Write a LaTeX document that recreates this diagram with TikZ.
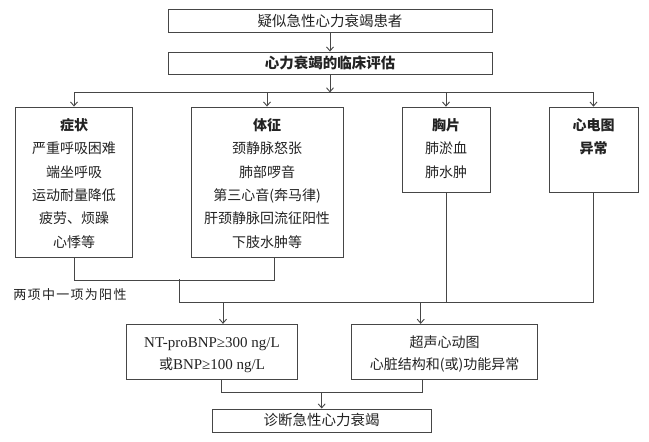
\documentclass[tikz,border=0pt]{standalone}
\usepackage{fontspec}
\setmainfont{Liberation Serif}
\newfontfamily\cjk{Noto Sans CJK SC}
\usetikzlibrary{arrows.meta}
\definecolor{linec}{RGB}{70,70,70}
\definecolor{textc}{RGB}{35,35,35}
\begin{document}
\begin{tikzpicture}[x=1pt,y=-1pt,
  box/.style={draw=linec,line width=0.9pt,inner sep=0pt},
  ln/.style={draw=linec,line width=0.9pt},
  arr/.style={ln,-{Straight Barb[length=4pt,width=7pt]}},
  t/.style={inner sep=0pt,text height=12.3pt,text depth=1.7pt,text=textc,font=\cjk\fontsize{14}{14}\selectfont},
  tb/.style={t,font=\cjk\bfseries\fontsize{14}{14}\selectfont},
  tl/.style={t,font=\fontsize{15}{15}\selectfont},
  ]
\useasboundingbox[fill=white] (0,0) rectangle (649,442);

% boxes
\node[box,t,font=\cjk\fontsize{14.5}{14.5}\selectfont,minimum width=324pt,minimum height=23pt] (top) at (330,20.7) {疑似急性心力衰竭患者};
\node[box,tb,font=\cjk\bfseries\fontsize{14.5}{14.5}\selectfont,minimum width=324pt,minimum height=22pt] (eval) at (330,63) {心力衰竭的临床评估};
\node[box,minimum width=116.6pt,minimum height=150pt] (sym) at (74,182) {};
\node[box,minimum width=152pt,minimum height=150pt] (tz) at (267,182) {};
\node[box,minimum width=88pt,minimum height=85pt] (chest) at (446,149.6) {};
\node[box,minimum width=89pt,minimum height=85pt] (ecg) at (593.5,149.6) {};
\node[box,minimum width=170.6pt,minimum height=55pt] (nt) at (212,351.8) {};
\node[box,minimum width=186pt,minimum height=55pt] (echo) at (444.7,351.8) {};
\node[box,t,font=\cjk\fontsize{14.5}{14.5}\selectfont,minimum width=218.7pt,minimum height=23.3pt] (final) at (321.7,420.6) {诊断急性心力衰竭};

% symptom texts
\node[tb] (sh) at (74,125) {症状};
\node[t] (s1) at (74,148.3) {严重呼吸困难};
\node[t] (s2) at (74,171.7) {端坐呼吸};
\node[t] (s3) at (74,195) {运动耐量降低};
\node[t] (s4) at (74,218.3) {疲劳、烦躁};
\node[t] (s5) at (74,241.7) {心悸等};

% sign texts
\node[tb] (th) at (267,125) {体征};
\node[t] (t1) at (267,148.3) {颈静脉怒张};
\node[t] (t2) at (267,171.7) {肺部啰音};
\node[t] (t3) at (267,195) {第三心音(奔马律)};
\node[t] (t4) at (267,218.3) {肝颈静脉回流征阳性};
\node[t] (t5) at (267,241.7) {下肢水肿等};

% chest
\node[tb] (ch) at (446,125) {胸片};
\node[t] (c1t) at (446,148.3) {肺淤血};
\node[t] (c2t) at (446,171.7) {肺水肿};

% ecg
\node[tb] (eh) at (593.5,125) {心电图};
\node[tb] (e1) at (593.5,148.3) {异常};

% lab
\node[tl] (n1) at (212,341.7) {NT-proBNP≥300 ng/L};
\node[tl] (n2) at (212,364.3) {{\cjk\fontsize{14}{14}\selectfont 或}BNP≥100 ng/L};

% echo
\node[t] (u1) at (444.7,341.7) {超声心动图};
\node[t] (u2) at (444.7,364.3) {心脏结构和(或)功能异常};

% note
\node[t,font=\cjk\fontsize{13}{13}\selectfont\addfontfeature{LetterSpace=10}] (note) at (70,294.3) {两项中一项为阳性};

% connectors
\draw[arr] (top) -- (eval);
\draw[arr] (eval.south) -- ++(0,18) coordinate (j1);
\draw[ln] (sym.north |- j1) -- (ecg.north |- j1);
\draw[arr] (sym.north |- j1) -- (sym.north);
\draw[arr] (tz.north |- j1) -- (tz.north);
\draw[arr] (chest.north |- j1) -- (chest.north);
\draw[arr] (ecg.north |- j1) -- (ecg.north);

\draw[ln] (sym.south) -- ++(0,22.5) -| ([xshift=7pt]tz.south);
\coordinate (m1) at (179,279.3);
\coordinate (m2) at (179,302.7);
\draw[ln] (m1) -- (m2) -- (m2 -| ecg.south);
\draw[ln] (chest.south) -- (chest.south |- m2);
\draw[ln] (ecg.south) -- (ecg.south |- m2);
\coordinate (a1) at (223,302.7);
\coordinate (a2) at (420.7,302.7);
\draw[arr] (a1) -- (a1 |- nt.north);
\draw[arr] (a2) -- (a2 |- echo.north);

\coordinate (q1) at (221,392.3);
\coordinate (q2) at (422.3,392.3);
\draw[ln] (q1 |- nt.south) -- (q1) -- (q2) -- (q2 |- echo.south);
\draw[arr] (final.north |- q1) -- (final.north);
\end{tikzpicture}
\end{document}
